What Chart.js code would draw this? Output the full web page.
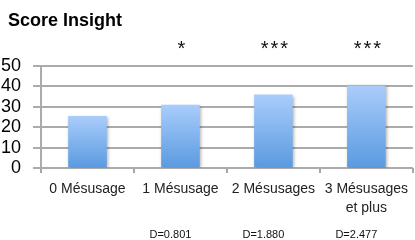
<!DOCTYPE html>
<html>
<head>
<meta charset="utf-8">
<script src="https://cdn.jsdelivr.net/npm/chart.js@4.4.0/dist/chart.umd.min.js"></script>
<style>
  html, body { margin: 0; padding: 0; background: #fff; }
  #wrap { width: 415px; height: 240px; }
</style>
</head>
<body>
<div id="wrap"><canvas id="myChart" width="415" height="240"></canvas></div>
<script>
var chartTitle = 'Score Insight';
// categories along the x-axis
var categories = ['0 Mésusage', '1 Mésusage', '2 Mésusages', ['3 Mésusages', 'et plus']];
// mean insight score per group
var scores = [25.5, 31, 36, 40.5];
// significance marks above each bar
var stars = ['', '*', '***', '***'];
// effect sizes under the labels
var effects = ['', 'D=0.801', 'D=1.880', 'D=2.477'];

var FONT = '"Liberation Sans", Arial, sans-serif';

// per-bar gradient: light at the top, darker at the base
function barGradient(c) {
  var ch = c.chart;
  if (!ch.chartArea) return '#7fb0ee';
  var y = ch.scales.y;
  var g = ch.ctx.createLinearGradient(0, y.getPixelForValue(c.raw), 0, y.getPixelForValue(0));
  g.addColorStop(0, '#a9cdfb');
  g.addColorStop(1, '#5a9ae0');
  return g;
}

var extras = {
  id: 'extras',
  beforeDatasetsDraw: function(chart) {
    var ctx = chart.ctx;
    ctx.save();
    ctx.shadowColor = 'rgba(0,0,0,0.3)';
    ctx.shadowBlur = 3;
    ctx.shadowOffsetX = 1;
    ctx.shadowOffsetY = 1;
  },
  afterDatasetsDraw: function(chart) {
    var ctx = chart.ctx;
    ctx.restore();
    var x = chart.scales.x;
    ctx.save();
    ctx.fillStyle = '#000';
    ctx.textAlign = 'left';
    ctx.textBaseline = 'alphabetic';
    ctx.font = 'bold 18px ' + FONT;
    ctx.fillText(chartTitle, 8, 26);
    ctx.fillStyle = '#111';
    ctx.textAlign = 'center';
    ctx.font = '20px ' + FONT;
    ctx.letterSpacing = '2px';
    stars.forEach(function(s, i) {
      if (s) ctx.fillText(s, x.getPixelForValue(i) + 2, 55);
    });
    ctx.letterSpacing = '0px';
    ctx.font = '11px ' + FONT;
    effects.forEach(function(s, i) {
      if (s) ctx.fillText(s, x.getPixelForValue(i) - 10, 238);
    });
    ctx.restore();
  }
};

new Chart(document.getElementById('myChart'), {
  type: 'bar',
  data: {
    labels: categories,
    datasets: [{
      data: scores,
      backgroundColor: barGradient,
      borderWidth: 0,
      categoryPercentage: 1,
      barPercentage: 0.415
    }]
  },
  options: {
    responsive: false,
    animation: false,
    events: [],
    layout: { padding: { left: 0, right: 0, top: 66, bottom: 0 } },
    plugins: {
      legend: { display: false },
      tooltip: { enabled: false },
      title: { display: false }
    },
    scales: {
      x: {
        offset: true,
        grid: { offset: true, drawOnChartArea: false, color: '#a6a6a6', lineWidth: 2, tickLength: 5 },
        border: { display: false },
        ticks: { color: '#222', font: { family: FONT, size: 14, lineHeight: 1.35 }, padding: 7, maxRotation: 0, autoSkip: false },
        afterFit: function(s) { s.height = 72; }
      },
      y: {
        min: 0,
        max: 50,
        ticks: { stepSize: 10, autoSkip: false, color: '#000', font: { family: FONT, size: 18, lineHeight: 1 }, padding: 12 },
        grid: { color: '#ababab', lineWidth: 2, tickLength: 8 },
        border: { color: '#ababab', width: 2 },
        afterFit: function(s) { s.width = 41; }
      }
    }
  },
  plugins: [extras]
});
</script>
</body>
</html>
